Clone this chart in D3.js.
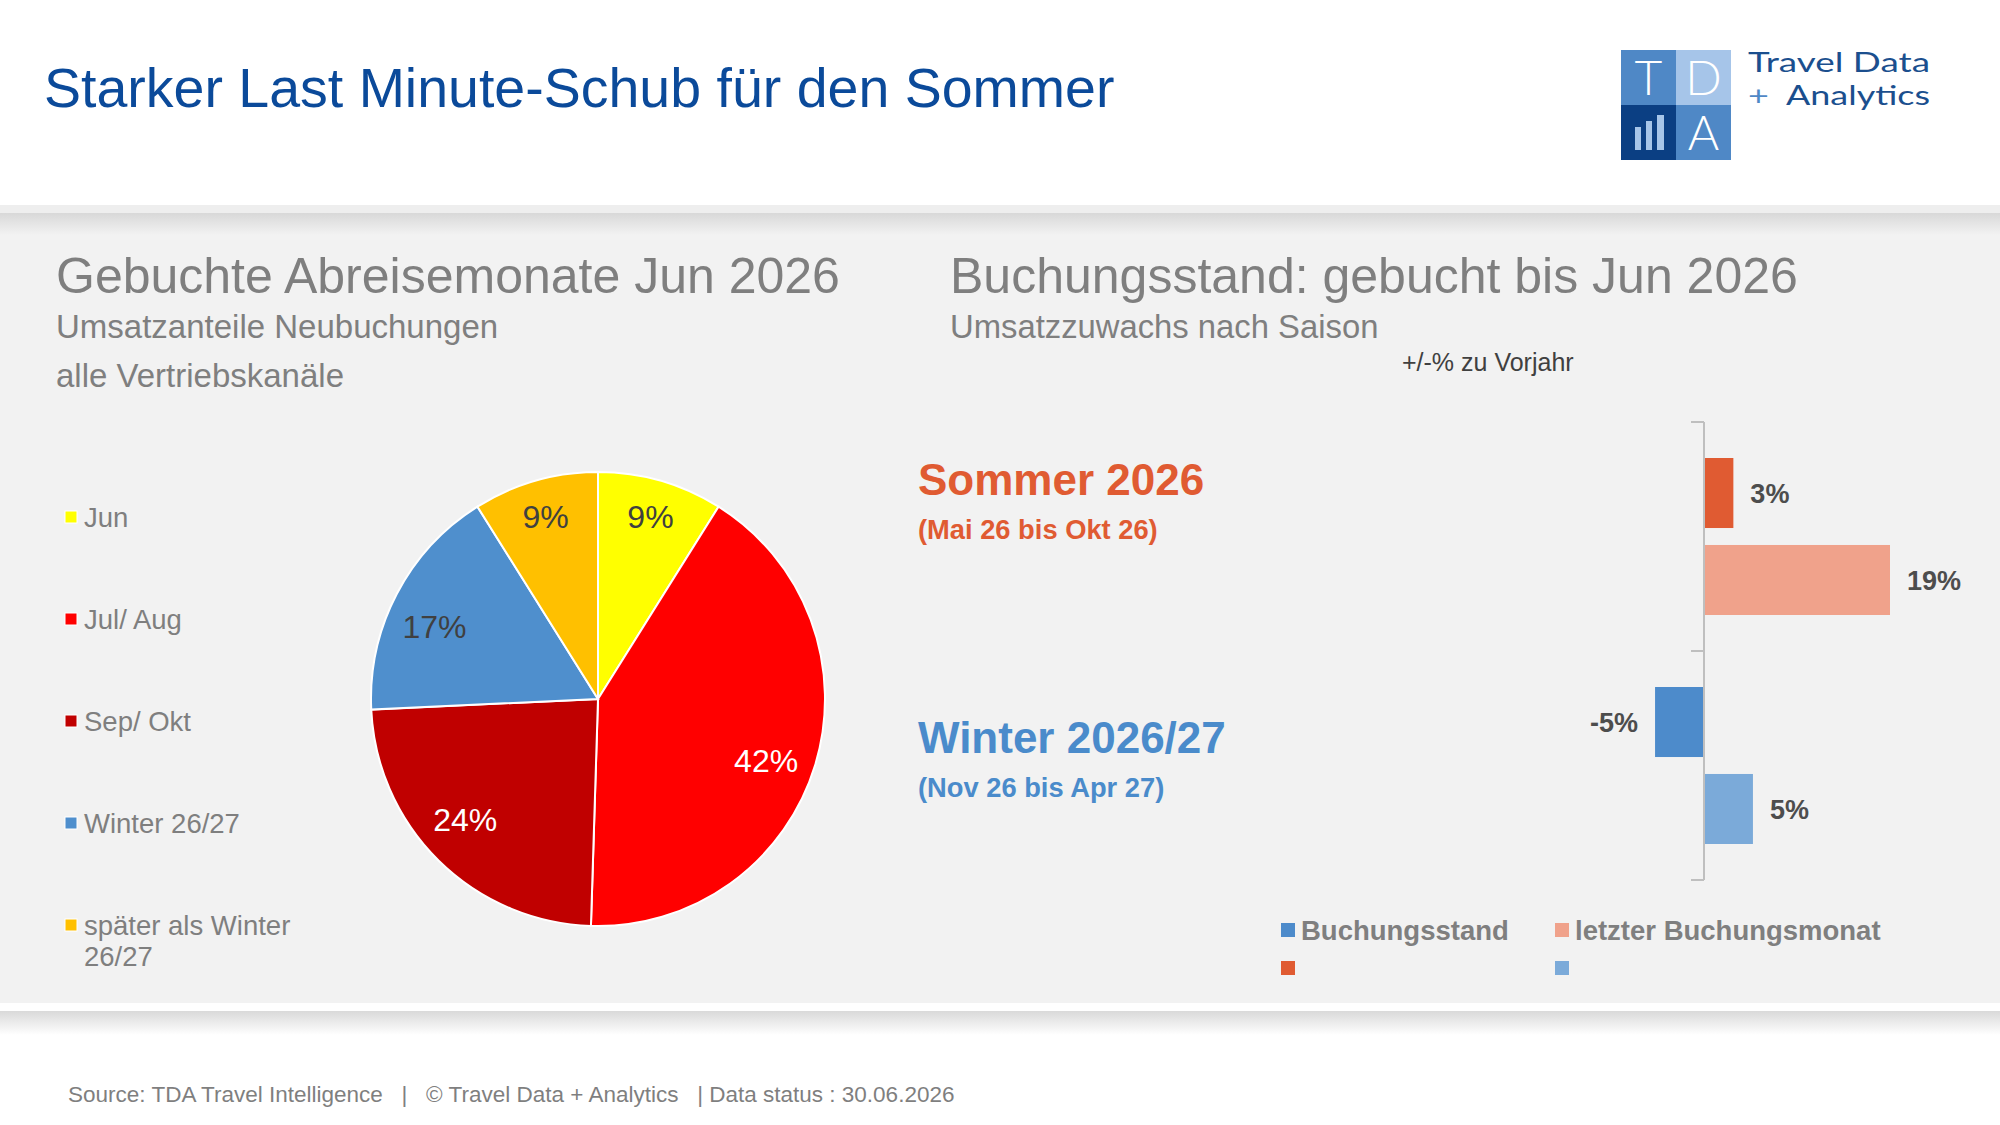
<!DOCTYPE html>
<html><head><meta charset="utf-8">
<script src="https://cdn.jsdelivr.net/npm/d3@7"></script>
<style>
html,body{margin:0;padding:0;background:#fff;}
svg{display:block;font-family:"Liberation Sans",Arial,Helvetica,sans-serif;}
</style></head><body>
<svg id="chart" width="2000" height="1125"></svg>
<script>
// ---------- DATA ----------
const pieCategories = ["Jun", "Jul/ Aug", "Sep/ Okt", "Winter 26/27", "später als Winter\n26/27"];
const pieValues = [9, 42, 24, 17, 9];
const seasons = ["Sommer 2026", "Winter 2026/27"];
const seasonRanges = ["(Mai 26 bis Okt 26)", "(Nov 26 bis Apr 27)"];
const seriesNames = ["Buchungsstand", "letzter Buchungsmonat"];
const buchungsstand = [3, -5];
const letzterBuchungsmonat = [19, 5];

// ---------- STYLE ----------
const pieColors = ["#FFFF00", "#FF0000", "#C00000", "#4F8FCD", "#FFC000"];
const pieLabelColors = ["#404040", "#FFFFFF", "#FFFFFF", "#404040", "#404040"];
const pieLabelShift = [0, 0.055, 0.058, -0.063, 0];   // label angle nudges (radians)
const seasonColors = ["#E05B32", "#4A8BCB"];
const barColors = [["#E05B32", "#F0A28B"], ["#4D8BCB", "#7BAAD9"]];
const GRAY = "#7F7F7F";

const svg = d3.select("#chart");
const defs = svg.append("defs");
function grad(id, c1, c2) {
  const g = defs.append("linearGradient").attr("id", id).attr("x1", 0).attr("y1", 0).attr("x2", 0).attr("y2", 1);
  g.append("stop").attr("offset", "0%").attr("stop-color", c1);
  g.append("stop").attr("offset", "100%").attr("stop-color", c2);
}
grad("shTop", "#d8d8d8", "#f2f2f2");
grad("shBot", "#d9d9d9", "#ffffff");

// ---------- BACKGROUND ----------
svg.append("rect").attr("x", 0).attr("y", 0).attr("width", 2000).attr("height", 1125).attr("fill", "#fff");
svg.append("rect").attr("x", 0).attr("y", 205).attr("width", 2000).attr("height", 8).attr("fill", "#eeeeee");
svg.append("rect").attr("x", 0).attr("y", 213).attr("width", 2000).attr("height", 790).attr("fill", "#f2f2f2");
svg.append("rect").attr("x", 0).attr("y", 213).attr("width", 2000).attr("height", 22).attr("fill", "url(#shTop)");
svg.append("rect").attr("x", 0).attr("y", 1011).attr("width", 2000).attr("height", 24).attr("fill", "url(#shBot)");

// ---------- HEADER ----------
svg.append("text").attr("x", 44).attr("y", 107).attr("font-size", 55.5).attr("fill", "#0B4A9A")
  .text("Starker Last Minute-Schub für den Sommer");

// Logo
const logo = svg.append("g").attr("transform", "translate(1621,50)");
const q = 55;
[[0, 0, "#4F88C6"], [q, 0, "#A6C5E9"], [0, q, "#0B3F83"], [q, q, "#4F88C6"]].forEach(([x, y, c]) =>
  logo.append("rect").attr("x", x).attr("y", y).attr("width", q).attr("height", q).attr("fill", c));
[["T", 0, 0], ["D", q, 0], ["A", q, q]].forEach(([t, x, y]) =>
  logo.append("text").attr("x", x + q / 2).attr("y", y + q / 2 + 17).attr("text-anchor", "middle")
    .attr("font-family", "Lato, 'DejaVu Sans', sans-serif").attr("font-weight", 300)
    .attr("font-size", 48).attr("fill", "#fff").text(t));
[[14, 23, 6], [25, 29, 6], [36, 35, 7]].forEach(([x, h, w]) =>
  logo.append("rect").attr("x", x).attr("y", 100 - h).attr("width", w).attr("height", h).attr("fill", "#A6C5E9"));
svg.append("text").attr("x", 1748).attr("y", 72).attr("font-size", 26).attr("fill", "#1B4F8E")
  .attr("font-family", "Lato, 'DejaVu Sans', sans-serif")
  .attr("textLength", 182).attr("lengthAdjust", "spacingAndGlyphs").text("Travel Data");
const an = svg.append("text").attr("x", 1748).attr("y", 105).attr("font-size", 26).attr("fill", "#1B4F8E")
  .attr("font-family", "Lato, 'DejaVu Sans', sans-serif")
  .attr("textLength", 182).attr("lengthAdjust", "spacingAndGlyphs").style("white-space", "pre");
an.append("tspan").attr("fill", "#4F88C6").text("+");
an.append("tspan").text("  Analytics");

// ---------- LEFT PANEL ----------
svg.append("text").attr("x", 56).attr("y", 293).attr("font-size", 50).attr("fill", GRAY)
  .text("Gebuchte Abreisemonate Jun 2026");
svg.append("text").attr("x", 56).attr("y", 338).attr("font-size", 33).attr("fill", GRAY)
  .text("Umsatzanteile Neubuchungen");
svg.append("text").attr("x", 56).attr("y", 387).attr("font-size", 33).attr("fill", GRAY)
  .text("alle Vertriebskanäle");

// Pie legend
const legL = svg.append("g");
pieCategories.forEach((c, i) => {
  const cy = 517 + i * 102;
  legL.append("rect").attr("x", 65).attr("y", cy - 6).attr("width", 12).attr("height", 12)
    .attr("fill", pieColors[i]).attr("stroke", "#fff").attr("stroke-width", 1);
  c.split("\n").forEach((line, j) =>
    legL.append("text").attr("x", 84).attr("y", cy + 10 + j * 31).attr("font-size", 27.5)
      .attr("fill", GRAY).text(line));
});

// Pie
const cx = 598, cy = 699, R = 227;
const pie = d3.pie().sort(null).value(d => d)(pieValues);
const arc = d3.arc().innerRadius(0).outerRadius(R);
const pg = svg.append("g").attr("transform", `translate(${cx},${cy})`);
pg.selectAll("path").data(pie).join("path").attr("d", arc)
  .attr("fill", (d, i) => pieColors[i]).attr("stroke", "#fff").attr("stroke-width", 2);
pg.selectAll("text.pl").data(pie).join("text").attr("class", "pl")
  .attr("transform", (d, i) => {
    const r = d.data < 10 ? 190 : 179;
    const a = (d.startAngle + d.endAngle) / 2 + pieLabelShift[i];
    return `translate(${r * Math.sin(a)},${-r * Math.cos(a)})`;
  })
  .attr("text-anchor", "middle").attr("dy", "0.36em").attr("font-size", 32)
  .attr("fill", (d, i) => pieLabelColors[i]).text(d => d.data + "%");

// ---------- RIGHT PANEL ----------
svg.append("text").attr("x", 950).attr("y", 293).attr("font-size", 50).attr("fill", GRAY)
  .text("Buchungsstand: gebucht bis Jun 2026");
svg.append("text").attr("x", 950).attr("y", 338).attr("font-size", 32.8).attr("fill", GRAY)
  .text("Umsatzzuwachs nach Saison");
svg.append("text").attr("x", 1402).attr("y", 371).attr("font-size", 25).attr("fill", "#404040")
  .text("+/-% zu Vorjahr");

const x = d3.scaleLinear().domain([0, 19]).range([1704, 1890]);
const y = d3.scaleBand().domain(seasons).range([422, 880]);
const ys = d3.scaleBand().domain(seriesNames).range([0, y.bandwidth()]).paddingInner(0.195).paddingOuter(0.414);
const seriesValues = [buchungsstand, letzterBuchungsmonat];

const barData = [];
seasons.forEach((s, i) => seriesNames.forEach((n, j) =>
  barData.push({ season: s, series: n, value: seriesValues[j][i], color: barColors[i][j] })));

const bg = svg.append("g");
bg.selectAll("rect").data(barData).join("rect")
  .attr("x", d => Math.min(x(0), x(d.value)))
  .attr("width", d => Math.abs(x(d.value) - x(0)))
  .attr("y", d => y(d.season) + ys(d.series))
  .attr("height", ys.bandwidth())
  .attr("fill", d => d.color);
bg.selectAll("text").data(barData).join("text")
  .attr("x", d => d.value >= 0 ? x(d.value) + 17 : x(d.value) - 17)
  .attr("y", d => y(d.season) + ys(d.series) + ys.bandwidth() / 2)
  .attr("dy", "0.36em")
  .attr("text-anchor", d => d.value >= 0 ? "start" : "end")
  .attr("font-size", 27).attr("font-weight", "bold").attr("fill", "#4D4D4D")
  .text(d => d.value + "%");

// category axis (ticks between categories)
const ax = svg.append("g").attr("stroke", "#BFBFBF").attr("stroke-width", 2);
ax.append("line").attr("x1", x(0)).attr("x2", x(0)).attr("y1", y.range()[0]).attr("y2", y.range()[1]);
const tickYs = seasons.map(s => y(s)).concat([y.range()[1]]);
ax.selectAll("line.t").data(tickYs).join("line").attr("class", "t")
  .attr("x1", x(0) - 13).attr("x2", x(0)).attr("y1", d => d).attr("y2", d => d);

// season labels
const labelOffsets = [73, 102];
seasons.forEach((s, i) => {
  const top = y(s) + labelOffsets[i];
  svg.append("text").attr("x", 918).attr("y", top).attr("font-size", 44).attr("font-weight", "bold")
    .attr("fill", seasonColors[i]).text(s);
  svg.append("text").attr("x", 918).attr("y", top + 44).attr("font-size", 27.3).attr("font-weight", "bold")
    .attr("fill", seasonColors[i]).text(seasonRanges[i]);
});

// bar legend
const legendItems = [
  { color: barColors[1][0], label: seriesNames[0], col: 0, row: 0 },
  { color: barColors[0][1], label: seriesNames[1], col: 1, row: 0 },
  { color: barColors[0][0], label: "", col: 0, row: 1 },
  { color: barColors[1][1], label: "", col: 1, row: 1 }
];
const colX = [1281, 1555], rowY = [930, 968];
const lg = svg.append("g");
legendItems.forEach(it => {
  lg.append("rect").attr("x", colX[it.col]).attr("y", rowY[it.row] - 7).attr("width", 14).attr("height", 14)
    .attr("fill", it.color);
  if (it.label) lg.append("text").attr("x", colX[it.col] + 20).attr("y", rowY[it.row] + 10)
    .attr("font-size", 27.5).attr("font-weight", "bold").attr("fill", GRAY).text(it.label);
});

// ---------- FOOTER ----------
svg.append("text").attr("x", 68).attr("y", 1102).attr("font-size", 22.5).attr("fill", GRAY)
  .style("white-space", "pre")
  .text("Source: TDA Travel Intelligence   |   © Travel Data + Analytics   | Data status : 30.06.2026");
</script>
</body></html>
